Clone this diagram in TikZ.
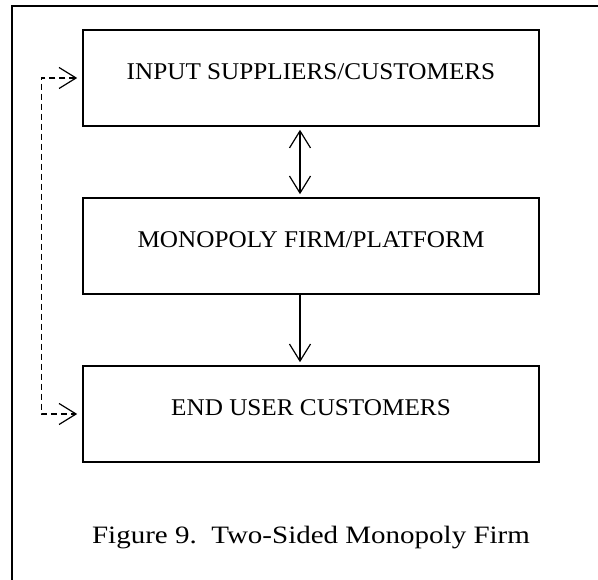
\documentclass[tikz,border=0pt]{standalone}
\usepackage{fontspec}
\setmainfont{Liberation Serif}
\newfontfamily\boxfont[FakeStretch=1.05]{Liberation Serif}
\newfontfamily\capfont[FakeStretch=1.16]{Liberation Serif}
\usetikzlibrary{arrows.meta}
\tikzset{
  box/.style={draw, line width=1.6pt, minimum width=456pt, minimum height=96pt,
    text height=17pt, text depth=13pt, font=\boxfont\fontsize{24}{28}\selectfont},
  link/.style={line width=1.2pt, {Straight Barb[length=17pt,width=21pt]}-{Straight Barb[length=17pt,width=21pt]}, shorten <=3pt, shorten >=3pt},
}
\begin{document}
\begin{tikzpicture}[x=1pt,y=-1pt]
      \useasboundingbox (0,0) rectangle (598,580);
      \draw[line width=1.6pt] (598,6) -- (12,6) -- (12,580);
      \draw
        (311,78) node[box] (supp){INPUT SUPPLIERS/CUSTOMERS}
        (311,246) node[box] (firm){MONOPOLY FIRM/PLATFORM}
        (311,414) node[box] (user){END USER CUSTOMERS}
        (311,538) node[font=\capfont\fontsize{25}{30}\selectfont] (cap){Figure 9.\ \ Two-Sided Monopoly Firm};
      \coordinate (a) at ([xshift=-11pt]supp.south);
      \coordinate (b) at ([xshift=-11pt]firm.north);
      \coordinate (c) at ([xshift=-11pt]firm.south);
      \coordinate (d) at ([xshift=-11pt]user.north);
      \begin{scope}[link]
        \draw (a) to (b);
        \draw[{}-{Straight Barb[length=17pt,width=21pt]}, shorten <=0pt] (c) to (d);
        \draw[dashed, dash pattern=on 6pt off 4pt, shorten <=5pt, shorten >=5pt]
          (supp.west) -- ++(-41,0) |- (user.west);
      \end{scope}
    \end{tikzpicture}
\end{document}
